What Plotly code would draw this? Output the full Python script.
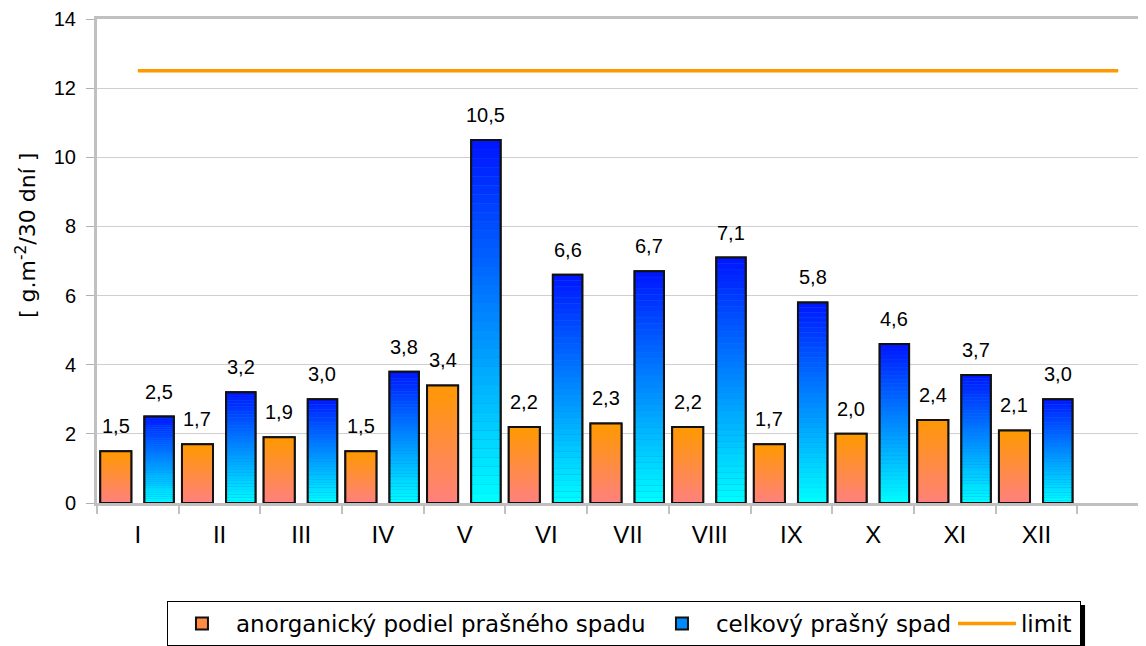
import plotly.graph_objects as go

# ---------------- data ----------------
months = ["I", "II", "III", "IV", "V", "VI", "VII", "VIII", "IX", "X", "XI", "XII"]
anorg_values = [1.5, 1.7, 1.9, 1.5, 3.4, 2.2, 2.3, 2.2, 1.7, 2.0, 2.4, 2.1]
total_values = [2.5, 3.2, 3.0, 3.8, 10.5, 6.6, 6.7, 7.1, 5.8, 4.6, 3.7, 3.0]
limit_categories = months + [" "]
limit_values = [12.5, 12.5, 12.5, 12.5, 12.5, 12.5, 12.5, 12.5, 12.5, 12.5, 12.5, 12.5, 12.5]
y_ticks = [0, 2, 4, 6, 8, 10, 12, 14]

name_anorg = "anorganický podiel prašného spadu"
name_total = "celkový prašný spad"
name_limit = "limit"
y_title = "[ g.m<sup>-2</sup>/30 dní ]"

# ---------------- style ----------------
FONT = "Liberation Sans, Arial, sans-serif"
WIDE = "DejaVu Sans, Verdana, sans-serif"
ORANGE_TOP = (255, 153, 0)
ORANGE_BOT = (255, 128, 128)
BLUE_TOP = (0, 20, 255)
BLUE_BOT = (0, 255, 255)
N_SEG = 40

ORANGE_OFF, ORANGE_W = -0.46, 0.38
BLUE_OFF, BLUE_W = 0.08, 0.36


def mix(c0, c1, t):
    return "rgb(%d,%d,%d)" % tuple(round(a + (b - a) * t) for a, b in zip(c0, c1))


def fmt(v):
    return f"{v:.1f}".replace(".", ",")


fig = go.Figure()

# legend / base bars (solid mid colour, black border)
fig.add_trace(go.Bar(x=months, y=anorg_values, name=name_anorg, offset=ORANGE_OFF, width=ORANGE_W,
                     marker=dict(color=mix(ORANGE_BOT, ORANGE_TOP, 0.5), line=dict(color="#111", width=2)),
                     legendwidth=407, hoverinfo="skip"))
fig.add_trace(go.Bar(x=months, y=total_values, name=name_total, offset=BLUE_OFF, width=BLUE_W,
                     marker=dict(color=mix(BLUE_BOT, BLUE_TOP, 0.5), line=dict(color="#111", width=2)),
                     legendwidth=232, hoverinfo="skip"))

# vertical gradient fill of each bar, built from stacked slices of its own value
for vals, off, w, cb, ct in [(anorg_values, ORANGE_OFF, ORANGE_W, ORANGE_BOT, ORANGE_TOP),
                             (total_values, BLUE_OFF, BLUE_W, BLUE_BOT, BLUE_TOP)]:
    for k in range(N_SEG):
        fig.add_trace(go.Bar(
            x=months, y=[v / N_SEG for v in vals], base=[v * k / N_SEG for v in vals],
            offset=off, width=w, showlegend=False, hoverinfo="skip",
            marker=dict(color=mix(cb, ct, (k + 0.5) / N_SEG), line=dict(width=0))))

# black outlines on top
for vals, off, w in [(anorg_values, ORANGE_OFF, ORANGE_W), (total_values, BLUE_OFF, BLUE_W)]:
    fig.add_trace(go.Bar(x=months, y=vals, offset=off, width=w, showlegend=False, hoverinfo="skip",
                         marker=dict(color="rgba(0,0,0,0)", line=dict(color="#111", width=2))))

# limit line
fig.add_trace(go.Scatter(x=limit_categories, y=limit_values, mode="lines", name=name_limit,
                         line=dict(color="#FF9900", width=3.5), legendwidth=54, hoverinfo="skip"))

# data labels
annotations = []
for i, v in enumerate(anorg_values):
    annotations.append(dict(x=i + ORANGE_OFF + ORANGE_W / 2, y=v, xref="x", yref="y", text=fmt(v),
                            showarrow=False, yanchor="middle", yshift=25,
                            font=dict(family=FONT, size=20, color="black")))
for i, v in enumerate(total_values):
    annotations.append(dict(x=i + BLUE_OFF + BLUE_W / 2, y=v, xref="x", yref="y", text=fmt(v),
                            showarrow=False, yanchor="middle", yshift=25,
                            font=dict(family=FONT, size=20, color="black")))
# y axis title
annotations.append(dict(x=-0.0677, y=0.5537, xref="paper", yref="paper", text=y_title, textangle=-90,
                        showarrow=False, xanchor="center", yanchor="middle",
                        font=dict(family=WIDE, size=22, color="black")))

fig.update_layout(
    width=1138, height=638,
    margin=dict(l=89, r=0, t=11, b=143, autoexpand=False),
    paper_bgcolor="white", plot_bgcolor="white",
    barmode="overlay",
    font=dict(family=FONT, size=20, color="black"),
    showlegend=True,
    legend=dict(orientation="h", x=0.0667, y=-0.2025, xanchor="left", yanchor="top",
                bordercolor="black", borderwidth=1, itemwidth=58,
                font=dict(family=WIDE, size=23, color="black"), traceorder="normal"),
    annotations=annotations,
    shapes=[dict(type="rect", xref="paper", yref="paper", x0=0.9352, x1=0.9419, y0=-0.2107, y1=-0.32,
                 fillcolor="black", line=dict(width=0), layer="above")],
)

fig.update_xaxes(
    type="category", categoryorder="array", categoryarray=limit_categories,
    tickmode="array", tickvals=months, ticktext=months,
    range=[-0.5, 12.34], showline=True, linecolor="#C0C0C0", linewidth=3, mirror=True,
    ticks="outside", tickson="boundaries", ticklen=8, tickcolor="#C0C0C0", tickwidth=2,
    showgrid=False, tickfont=dict(family=FONT, size=24, color="black"), ticklabelstandoff=8,
)
fig.update_yaxes(
    range=[0, 14], tickvals=y_ticks, showline=True, linecolor="#C0C0C0", linewidth=3,
    ticks="outside", ticklen=8, tickcolor="#B0B0B0", tickwidth=1,
    showgrid=True, gridcolor="#CFCFCF", gridwidth=1, zeroline=False,
    tickfont=dict(family=FONT, size=20, color="black"), ticklabelstandoff=6,
)

fig.write_html("out.html")
